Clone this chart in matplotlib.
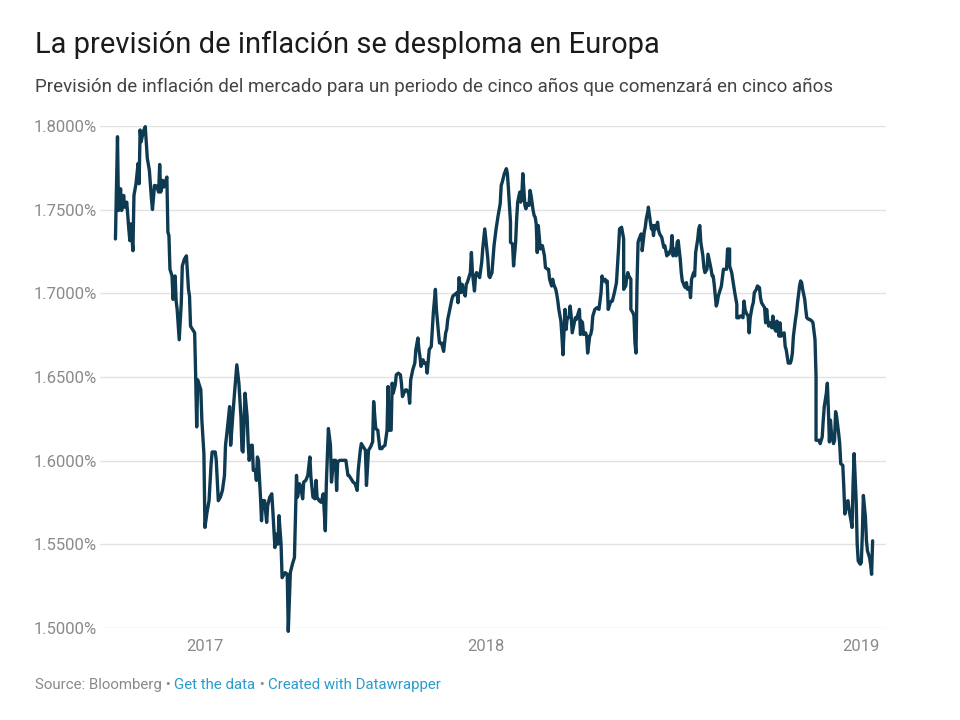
import numpy as np
import matplotlib
matplotlib.use("Agg")
import matplotlib.pyplot as plt

plt.rcParams['font.family'] = ['Roboto', 'DejaVu Sans']

# ---------------- texts ----------------
title = "La previsión de inflación se desploma en Europa"
subtitle = ("Previsión de inflación del mercado para un periodo de cinco años "
            "que comenzará en cinco años")
source_text = "Source: Bloomberg"
link_texts = ["Get the data", "Created with Datawrapper"]

# ---------------- data ----------------
start_date = np.datetime64('2017-01-01')

day_offsets = [
    5, 7, 8, 10, 11, 13, 14, 16, 18, 19, 20, 22, 23, 25, 27, 28, 29, 30, 32, 34,
    36, 38, 40, 41, 43, 45, 47, 48, 49, 51, 52, 55, 56, 57, 58, 60, 61, 63, 64, 65,
    67, 69, 70, 72, 74, 76, 77, 78, 81, 82, 83, 84, 85, 86, 88, 89, 91, 92, 94, 96,
    98, 99, 102, 103, 105, 107, 109, 111, 112, 114, 116, 117, 119, 121, 123,
    125, 127, 128, 129, 131, 133, 134, 135, 137, 138, 139, 141, 142, 143, 144, 146,
    147, 148, 150, 152, 153, 155, 157, 158, 160, 161, 163, 164, 166, 167, 170, 172,
    173, 175, 177, 179, 181, 182, 184, 185, 187, 188, 190, 192, 194, 195, 197, 199,
    200, 201, 203, 205, 207, 209, 210, 212, 214, 215, 217, 219, 220, 221, 223, 225,
    227, 229, 231, 232, 234, 236, 238, 240, 241, 243, 244, 246, 248,
    249, 251, 253, 255, 256, 258, 260, 262, 264, 265, 267, 269, 270, 271, 273, 274,
    275, 277, 278, 280, 282, 283, 284, 286, 287, 288, 290, 291, 292, 294, 296, 297,
    299, 300, 301, 302, 304, 305, 307, 308, 310, 312, 313, 314, 316, 317, 319, 320,
    322, 324, 326, 327, 328, 330, 332, 333, 335, 337, 338, 339, 341, 342, 343, 345,
    346, 347, 348, 350, 351, 352, 354, 355, 356, 358, 359, 361, 362, 364, 365, 367,
    368, 369, 371,
    373, 375, 377, 379, 380, 381, 383, 385, 386, 387, 389, 389, 391, 392, 394, 395,
    396, 398, 399, 400, 401, 403, 404, 405, 407, 408, 409, 411, 412, 413, 414, 415,
    416, 418, 419, 420, 422, 423, 425, 426, 427, 429, 430, 431, 433, 434, 435, 436,
    438, 439, 440, 442, 443, 444, 446, 447, 448, 449, 451, 452, 453, 455, 456, 457,
    458, 459, 460, 462, 463, 464, 466, 467, 468, 469, 471, 473, 475, 477, 478, 479,
    481, 482, 483, 484, 486, 487, 488, 490, 492, 493, 494, 495, 497,
    499, 499, 501, 502, 503, 504, 506, 506, 508, 509, 510, 511, 512, 513, 514, 516,
    517, 517, 519, 520, 521, 523, 523, 525, 526, 527, 528, 529, 530, 532, 533, 534,
    536, 537, 538, 539, 541, 542, 543, 545, 546, 547, 549, 550, 551, 552, 554, 555,
    556, 558, 559, 560, 561, 563, 564, 565, 567, 568, 569, 571, 572, 573, 574, 576,
    577, 578, 580, 581, 582, 584, 585, 586, 587, 589, 590, 591, 593, 594, 595, 596,
    598, 599, 600, 602, 602, 604, 605, 606, 607, 609, 609, 611, 612, 613, 615, 616,
    617, 618, 620, 621,
    622, 624, 625, 626, 628, 629, 631, 632, 633, 635, 636, 637, 638, 639, 640, 642,
    643, 644, 646, 647, 648, 650, 651, 652, 653, 655, 656, 657, 659, 661, 662, 663,
    664, 666, 667, 668, 670, 671, 672, 673, 675, 676, 677, 679, 680, 682, 683, 685,
    686, 686, 688, 689, 690, 692, 693, 694, 696, 697, 698, 699, 700, 701, 703, 704,
    705, 706, 708, 709, 710, 712, 713, 714, 716, 717, 718, 720, 721, 722, 723, 725,
    726, 727, 729, 730, 731, 732, 734, 735, 736, 738, 739, 740, 741,
]

forecast = [
    1.7325, 1.7936, 1.7495, 1.7625, 1.7495, 1.7585, 1.7515, 1.7545, 1.7385, 1.7315,
    1.7415, 1.7255, 1.7585, 1.7655, 1.7776, 1.7655, 1.7976, 1.7906, 1.7966, 1.7996,
    1.7806, 1.7735, 1.7565, 1.7501, 1.7645, 1.7641, 1.7605, 1.7770, 1.7605, 1.7675,
    1.7635, 1.7695, 1.7365, 1.7345, 1.7144, 1.7104, 1.6964, 1.7104, 1.6954, 1.6904,
    1.6723, 1.6944, 1.7164, 1.7204, 1.7224, 1.7024, 1.6984, 1.6804, 1.6774, 1.6764,
    1.6503, 1.6202, 1.6483, 1.6463, 1.6423, 1.6243, 1.6042, 1.5601, 1.5691, 1.5761,
    1.5982, 1.6052, 1.6052, 1.6002, 1.5761, 1.5782, 1.5822, 1.5912, 1.6092, 1.6202,
    1.6323, 1.6092, 1.6263, 1.6423, 1.6573,
    1.6463, 1.6263, 1.6062, 1.6052, 1.6403, 1.6263, 1.6102, 1.6002, 1.6092, 1.6092,
    1.5942, 1.5942, 1.5882, 1.6022, 1.6002, 1.5782, 1.5641, 1.5761, 1.5761, 1.5631,
    1.5731, 1.5782, 1.5802, 1.5701, 1.5481, 1.5561, 1.5501, 1.5671, 1.5501, 1.5301,
    1.5331, 1.5321, 1.4980, 1.5331, 1.5381, 1.5421, 1.5912, 1.5782, 1.5862, 1.5842,
    1.5772, 1.5872, 1.5882, 1.5912, 1.6022, 1.5902, 1.5782, 1.5772, 1.5882, 1.5782,
    1.5761, 1.5751, 1.5802, 1.5581, 1.5862, 1.6192, 1.6092, 1.5872, 1.6002, 1.6002,
    1.5822, 1.5992, 1.6002, 1.6002, 1.6002, 1.6002, 1.5912, 1.5912, 1.5892, 1.5872,
    1.5862, 1.5822, 1.5942, 1.6062, 1.6102, 1.6082, 1.6062,
    1.5852, 1.6062, 1.6082, 1.6112, 1.6353, 1.6192, 1.6182, 1.6072, 1.6072, 1.6082,
    1.6092, 1.6182, 1.6443, 1.6182, 1.6182, 1.6463, 1.6403, 1.6453, 1.6513, 1.6523,
    1.6513, 1.6463, 1.6383, 1.6413, 1.6423, 1.6423, 1.6403, 1.6343, 1.6483, 1.6543,
    1.6583, 1.6663, 1.6733, 1.6663, 1.6623, 1.6563, 1.6603, 1.6583, 1.6583, 1.6523,
    1.6663, 1.6683, 1.6784, 1.6884, 1.7024, 1.6904, 1.6764, 1.6703, 1.6703, 1.6653,
    1.6764, 1.6784, 1.6844, 1.6904, 1.6964, 1.6984, 1.6994, 1.7004, 1.6944, 1.7094,
    1.7004, 1.7054, 1.7024, 1.6984, 1.7054, 1.7064, 1.7084, 1.7124, 1.7244, 1.7124,
    1.7014, 1.7104, 1.7124, 1.7104, 1.7094, 1.7184, 1.7265, 1.7385, 1.7325, 1.7204,
    1.7104, 1.7094, 1.7124,
    1.7285, 1.7385, 1.7465, 1.7535, 1.7645, 1.7665, 1.7715, 1.7745, 1.7715, 1.7625,
    1.7425, 1.7305, 1.7295, 1.7164, 1.7305, 1.7445, 1.7545, 1.7605, 1.7545, 1.7585,
    1.7715, 1.7525, 1.7505, 1.7535, 1.7525, 1.7615, 1.7585, 1.7495, 1.7465, 1.7455,
    1.7415, 1.7244, 1.7405, 1.7265, 1.7285, 1.7285, 1.7224, 1.7154, 1.7144, 1.7144,
    1.7084, 1.7044, 1.7084, 1.7054, 1.7024, 1.6994, 1.6954, 1.6904, 1.6834, 1.6744,
    1.6633, 1.6904, 1.6784, 1.6844, 1.6864, 1.6924, 1.6864, 1.6764, 1.6824, 1.6854,
    1.6844, 1.6884, 1.6904, 1.6754, 1.6834, 1.6824, 1.6754, 1.6764, 1.6744, 1.6643,
    1.6744, 1.6754, 1.6784, 1.6864, 1.6904, 1.6914, 1.6904, 1.7004, 1.7104, 1.7074,
    1.7084, 1.7064, 1.7074, 1.6904, 1.6944, 1.6954, 1.6954, 1.7004, 1.7064, 1.7164,
    1.7265, 1.7385, 1.7395,
    1.7325, 1.7024, 1.7044, 1.7094, 1.7124, 1.7104, 1.7084, 1.6904, 1.6884, 1.6864,
    1.6703, 1.6643, 1.7064, 1.7305, 1.7325, 1.7355, 1.7305, 1.7255, 1.7365, 1.7395,
    1.7445, 1.7505, 1.7515, 1.7425, 1.7385, 1.7405, 1.7345, 1.7405, 1.7385, 1.7425,
    1.7375, 1.7355, 1.7335, 1.7305, 1.7275, 1.7285, 1.7224, 1.7244, 1.7234, 1.7265,
    1.7345, 1.7224, 1.7265, 1.7224, 1.7305, 1.7315, 1.7204, 1.7124, 1.7074, 1.7044,
    1.7034, 1.7064, 1.7024, 1.7034, 1.6974, 1.7084, 1.7124, 1.7104, 1.7244, 1.7325,
    1.7385, 1.7405, 1.7305, 1.7224, 1.7154, 1.7124, 1.7144, 1.7234, 1.7204, 1.7144,
    1.7104, 1.7104, 1.7054, 1.6924, 1.6944, 1.6984, 1.7024, 1.7044, 1.7094, 1.7144,
    1.7144, 1.7144, 1.7265, 1.7265, 1.7164, 1.7124, 1.7084, 1.7044, 1.7004, 1.6934,
    1.6854, 1.6854, 1.6864, 1.6864, 1.6854, 1.6954, 1.6904, 1.6884, 1.6864, 1.6764,
    1.6854, 1.6924, 1.6944, 1.7004, 1.7024, 1.7044, 1.7034, 1.6974, 1.6944, 1.6924,
    1.6914, 1.6824, 1.6904, 1.6844, 1.6804, 1.6824, 1.6794, 1.6864, 1.6784, 1.6774,
    1.6834, 1.6744, 1.6824, 1.6744, 1.6754, 1.6764, 1.6683, 1.6663, 1.6583, 1.6583,
    1.6603, 1.6643, 1.6744, 1.6844, 1.6884, 1.6944, 1.7044, 1.7074, 1.7064, 1.7024,
    1.6964, 1.6904, 1.6854, 1.6844, 1.6844, 1.6834, 1.6824, 1.6723, 1.6503, 1.6122,
    1.6122, 1.6122, 1.6102, 1.6142, 1.6242, 1.6323, 1.6403, 1.6463, 1.6303, 1.6112,
    1.6242, 1.6162, 1.6102, 1.6122, 1.6293, 1.6263, 1.6162, 1.6102, 1.5982, 1.5972,
    1.5842, 1.5681, 1.5751, 1.5761, 1.5711, 1.5641, 1.5601, 1.5862, 1.6042, 1.5761,
    1.5501, 1.5401, 1.5381, 1.5391, 1.5561, 1.5792, 1.5661, 1.5521, 1.5461, 1.5421,
    1.5381, 1.5321, 1.5521,
]

y_ticks = [1.50, 1.55, 1.60, 1.65, 1.70, 1.75, 1.80]
x_tick_dates = ['2017-04-03', '2018-01-01', '2019-01-01']
x_tick_labels = ['2017', '2018', '2019']

# ---------------- figure ----------------
W, H = 960, 720
fig = plt.figure(figsize=(W / 100, H / 100), dpi=100, facecolor='white')

ax = fig.add_axes([100 / W, (H - 628) / H, 786 / W, 502 / H])
ax.set_facecolor('white')

dates = start_date + np.array(day_offsets).astype('timedelta64[D]')
ax.plot(dates, forecast, color='#0e3a52', lw=2.4, clip_on=False,
        solid_joinstyle='round', solid_capstyle='round', zorder=3)

ax.set_ylim(1.50, 1.80)
ax.set_xlim(start_date - np.timedelta64(10, 'D'), start_date + np.timedelta64(754, 'D'))

ax.set_yticks(y_ticks)
ax.set_yticklabels([f"{v:.4f}%" for v in y_ticks])
ax.set_xticks(np.array(x_tick_dates, dtype='datetime64[D]'))
ax.set_xticklabels(x_tick_labels)

ax.grid(axis='y', color='#e2e2e2', lw=1.0, zorder=0)
ax.grid(axis='x', visible=False)
for s in ax.spines.values():
    s.set_visible(False)
ax.tick_params(axis='y', length=0, pad=2.5, labelsize=12, labelcolor='#8a8a8a')
ax.tick_params(axis='x', length=0, pad=8, labelsize=12, labelcolor='#8a8a8a')

# titles
fig.text(35 / W, 1 - 45 / H, title, fontsize=21, color='#1b1b1b',
         ha='left', va='center')
fig.text(35 / W, 1 - 87 / H, subtitle, fontsize=13.5, color='#444444',
         ha='left', va='center')

# footer with colored pieces
footer_parts = [(source_text, '#8a8a8a'), (" \u2022 ", '#8a8a8a'),
                (link_texts[0], '#2a9ccc'), (" \u2022 ", '#8a8a8a'),
                (link_texts[1], '#2a9ccc')]
renderer = fig.canvas.get_renderer()
x_cur = 35 / W
for txt, col in footer_parts:
    t = fig.text(x_cur, 1 - 685 / H, txt, fontsize=10.8, color=col,
                 ha='left', va='center')
    bb = t.get_window_extent(renderer=renderer)
    x_cur += bb.width / W

fig.savefig('out.png', dpi=100, facecolor='white')
